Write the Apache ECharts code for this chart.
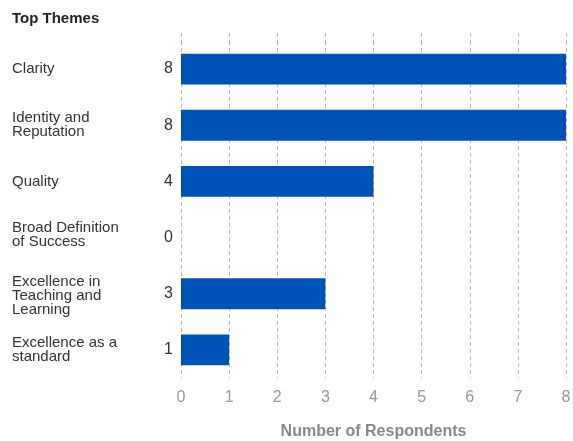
<!DOCTYPE html>
<html><head><meta charset="utf-8">
<script src="https://cdn.jsdelivr.net/npm/echarts@6/dist/echarts.min.js"></script>
<style>html,body{margin:0;padding:0;background:#fff}#c{width:573px;height:441px}</style>
</head><body><div id="c"></div>
<script>
var categories = ["Clarity", "Identity and\nReputation", "Quality", "Broad Definition\nof Success", "Excellence in\nTeaching and\nLearning", "Excellence as a\nstandard"];
var values = [8, 8, 4, 0, 3, 1];
var xTicks = [0, 1, 2, 3, 4, 5, 6, 7, 8];
var titleText = "Top Themes";
var xAxisTitle = "Number of Respondents";

var FONT = 'Liberation Sans';
var xMin = xTicks[0], xMax = xTicks[xTicks.length - 1];
// small per-row vertical nudges of the category labels (label styling only)
var labelStyles = ['n', 'n', 'n', 'up', 'down', 'n'];
var chart = echarts.init(document.getElementById('c'));
chart.setOption({
  animation: false,
  title: {text: titleText, left: 7, top: 6, textStyle: {fontFamily: FONT, fontSize: 15, fontWeight: 'bold', color: '#222'}},
  grid: [
    {left: 181, right: 7, top: 41, bottom: 63, outerBoundsMode: 'none', containLabel: false},
    {left: 181, right: 7, top: 33, height: 8, outerBoundsMode: 'none', containLabel: false}
  ],
  xAxis: [{
    type: 'value', gridIndex: 0, min: xMin, max: xMax, interval: 1,
    axisLine: {show: false}, axisTick: {show: false},
    axisLabel: {color: '#999', fontSize: 16, fontFamily: FONT, margin: 12},
    splitLine: {show: true, lineStyle: {color: '#bbb', type: [4, 3], width: 1}},
    name: xAxisTitle, nameLocation: 'middle', nameGap: 46,
    nameTextStyle: {color: '#888', fontSize: 16, fontWeight: 'bold', fontFamily: FONT}
  }, {
    type: 'value', gridIndex: 1, min: xMin, max: xMax, interval: 1,
    axisLine: {show: false}, axisTick: {show: false}, axisLabel: {show: false},
    splitLine: {show: true, lineStyle: {color: '#bbb', type: [4, 3], width: 1}}
  }],
  yAxis: [{
    type: 'category', gridIndex: 0, data: categories, inverse: true,
    axisLine: {show: false}, axisTick: {show: false},
    axisLabel: {
      align: 'left', margin: 169, color: '#333', fontSize: 15, lineHeight: 14, fontFamily: FONT,
      formatter: function (v, i) {
        return v.split('\n').map(function (s) { return '{' + labelStyles[i] + '|' + s + '}'; }).join('\n');
      },
      rich: {
        n: {fontSize: 15, lineHeight: 14, color: '#333', fontFamily: FONT},
        up: {fontSize: 15, lineHeight: 14, color: '#333', fontFamily: FONT, padding: [0, 0, 6, 0]},
        down: {fontSize: 15, lineHeight: 14, color: '#333', fontFamily: FONT, padding: [4, 0, 0, 0]}
      }
    }
  }, {
    type: 'category', gridIndex: 0, data: values.map(String), inverse: true, position: 'left',
    axisLine: {show: false}, axisTick: {show: false},
    axisLabel: {align: 'right', margin: 8, color: '#333', fontSize: 16, fontFamily: FONT}
  }, {
    type: 'category', gridIndex: 1, data: [''], show: false
  }],
  series: [{
    type: 'bar', data: values, xAxisIndex: 0, yAxisIndex: 0, barWidth: '55%',
    itemStyle: {color: '#0052b8'}
  }]
});
</script></body></html>
